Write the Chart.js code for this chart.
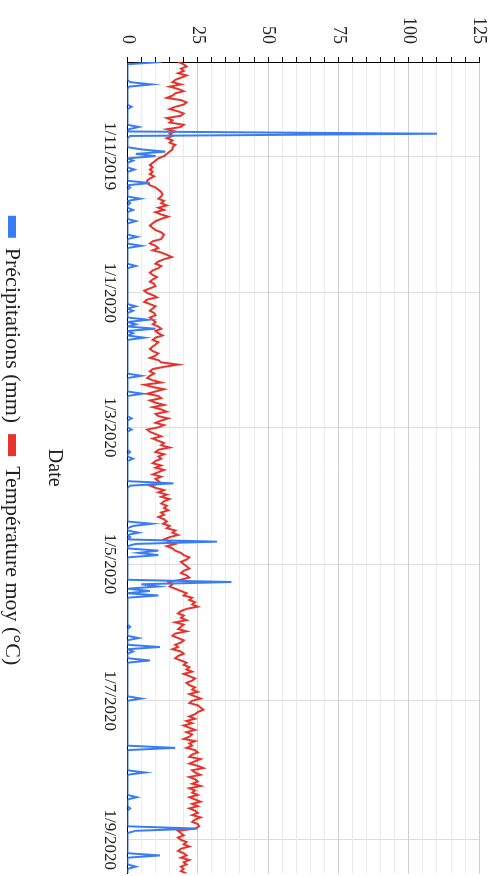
<!DOCTYPE html>
<html>
<head>
<meta charset="utf-8">
<script src="https://cdn.jsdelivr.net/npm/chart.js@4.4.1/dist/chart.umd.min.js"></script>
<style>
  html, body { margin:0; padding:0; background:#fff; overflow:hidden; }
  #wrap { position:absolute; left:0; top:0; width:878px; height:503px;
          transform-origin:0 0; transform:translateX(503px) rotate(90deg); }
</style>
</head>
<body>
<div id="wrap"><canvas id="chart" width="878" height="503"></canvas></div>
<script>
// daily series, first day = startDate
let startDate = '2019-09-20';
let tickDates = ['2019-11-01','2020-01-01','2020-03-01','2020-05-01','2020-07-01','2020-09-01'];
let seriesNames = ['Précipitations (mm)', 'Température moy (°C)'];

let precip = [
  12,0,0,0,0,0,0,0,0,1,8.6,0.5,0,0,0,0,0,0,0,0,
  1.5,0,0,0,0,0,0,0,0,4,0.5,0,110,1,0,0,0,0,0,5,
  13.5,3,10,0,2,0,0,0,2.5,0,0,0,0,0,8,0,1,0,0,0,
  0,4.6,0,1,0,0,2,0,0,0,0,3,0,0,0,0,0,0,3.5,0,
  0,0,5,0,0,0,0,0,0,0,0,3,0,0,0,0,0,0,0,0,
  0,0,0,0,0,0,0,0,0,3,0,2,0,0,0,7.5,0,3,0,10,
  0,2,0,6,0,0,0,0,0,0,0,0,0,0,0,0,0,0,0,0,
  5,0,0,0,0,0,0,0,5.5,0,0,0,0,0,0,0,0,0,0,1.5,
  0,0,0,0,1.5,0,0,0,0,0,0,0,0,0,1,0,0,2,0,0,
  0,0,0,0,0,0,0,0,16.4,1,0,0,0,0,0,0,0,0,0,0,
  0,0,0,0,0,0,8.7,2,0,0,4,0,1,0,31.8,3,0,0,11,4,
  11,0,0,0,0,0,0,0,0,0,0,0,37,5,11,0,8,0,11,0,
  0,0,0,0,0,0,0,0,0,0,0,0,1,0,0,0,0,4,0,0,
  0,11.6,0,2,0,0,0,8,0,0,0,0,0,0,0,0,0,0,0,0,
  0,0,0,0,5,0,0,0,0,0,0,0,0,0,0,0,0,0,0,0,
  0,0,0,0,0,0,17,0,0,0,0,0,0,0,0,0,0,6.3,0,0,
  0,0,0,0,0,0,0,0,3.4,0,0,0,0,1,0,0,0,0,0,0,
  0,0,25,3,0,0,0,0,0,0,0,0,0,0,11.6,0,0,0,0,3,
  0,0,0
];

let temp = [
  18,20,21,19,20,18,21,19,17,16,19,15,18,20,17,16,14,19,21,20,
  17,15,18,20,19,14,16,15,20,19,14,17,15,16,14,16,15,17,16,16,
  15,14,13,11,10,9,8,9,8,9,8,9.5,8,7,7,8,10,11,12,12.5,
  12,11,13,12,14,11,13,10,12,14.5,12,10,9,8,9,10,12,13,12.5,12,
  9,8,10,11,9,12,14,15.8,13,11,10,12,11,9,8,9,10.5,9,8,9.5,
  10,8,6,7,9,10.5,7,6,8,10,9,8,9.5,10,8,9,10,9,11,12,
  10,11,12.5,10,9,11,10,9,8,9,11,10,8,11,12,18,13,9,8,9.5,
  8,7,9,12,6,9,13,10,7,11,12,8,10,13,9,12,14,10,11,14.5,
  12,10,13,11,7,8,10,12,9,11,13,12,15,11,10,13,11,12,10,9,
  12,10,13,11,9,12,10,11,12,8,10,13,11,14,12,15,13,12,14,13,
  14.5,12,13,11,13,14,12.7,15,14,17,16,18,15,13,15,17,14,16,17,19,
  20,22,21,19,20,21,22,20,19,21,22,19,14.6,16,15,17,19,21,20,23,
  22,24,23,25,21,19,18,20,19,21,17,20,19,18,21,17,16,18,20,19,
  17,18,16,19,20,18,17,19,21,20,22,21,23,20,22,24,23,21,22,24,
  23,25,22,24,26,23,22,25,26,27,25,24,22,24,21,23,20,22,24,21,
  23,22,20,24,22,23,21,24,25,23,22,26,24,22,25,27,23,24,26,22,
  24,25,23,26,22,24,23,25,22,24,26,23,25,22,24,25,23,26,24,23,
  25,25.5,24,18,19,20,18,19,21,20,22,19,18,20,21,19,22,20,21,19,
  20,19,21
];

function dayIndex(s) {
  let a = new Date(startDate + 'T00:00:00Z'), b = new Date(s + 'T00:00:00Z');
  return Math.round((b - a) / 86400000);
}
function dateLabel(i) {
  let d = new Date(new Date(startDate + 'T00:00:00Z').getTime() + i * 86400000);
  return d.getUTCDate() + '/' + (d.getUTCMonth() + 1) + '/' + d.getUTCFullYear();
}

let tickDays = tickDates.map(dayIndex);
let serif = "'Liberation Serif', 'Times New Roman', serif";

let ctx = document.getElementById('chart');
let chart = new Chart(ctx, {
  type: 'line',
  data: {
    datasets: [{
      label: seriesNames[0],
      data: precip.map((v, i) => ({x: i, y: v})),
      borderColor: '#3a7df2',
      backgroundColor: '#3a7df2',
      borderWidth: 2,
      pointRadius: 0,
      tension: 0
    }, {
      label: seriesNames[1],
      data: temp.map((v, i) => ({x: i, y: v})),
      borderColor: '#e8322c',
      backgroundColor: '#e8322c',
      borderWidth: 2,
      pointRadius: 0,
      tension: 0
    }]
  },
  options: {
    responsive: false,
    animation: false,
    layout: { padding: { left: 4, right: 0, top: 0, bottom: -9 } },
    plugins: {
      tooltip: { enabled: false },
      legend: {
        position: 'bottom',
        labels: {
          font: { family: serif, size: 22 },
          color: '#222',
          boxWidth: 20,
          boxHeight: 6,
          padding: 12
        }
      }
    },
    scales: {
      x: {
        type: 'linear',
        min: 0,
        max: temp.length - 1,
        afterBuildTicks: function(axis) {
          axis.ticks = tickDays.map(v => ({value: v}));
        },
        ticks: {
          autoSkip: false,
          maxRotation: 0,
          padding: 8,
          color: '#222',
          font: { family: serif, size: 17 },
          callback: function(v) { return dateLabel(v); }
        },
        grid: { color: '#ddd', drawTicks: false },
        border: { color: '#000' },
        title: {
          display: true,
          text: 'Date',
          color: '#222',
          font: { family: serif, size: 20 },
          padding: { top: 24.5, bottom: 7.5 }
        }
      },
      y: {
        min: 0,
        max: 125,
        ticks: {
          stepSize: 5,
          autoSkip: false,
          padding: 13,
          color: '#222',
          font: { family: serif, size: 18 },
          callback: function(v) { return v % 25 === 0 ? v : ''; }
        },
        grid: {
          color: function(c) { return c.tick && c.tick.value % 25 === 0 ? '#cfcfcf' : '#ececec'; },
          tickColor: '#000',
          tickLength: 5
        },
        border: { color: '#000' }
      }
    }
  }
});
</script>
</body>
</html>
